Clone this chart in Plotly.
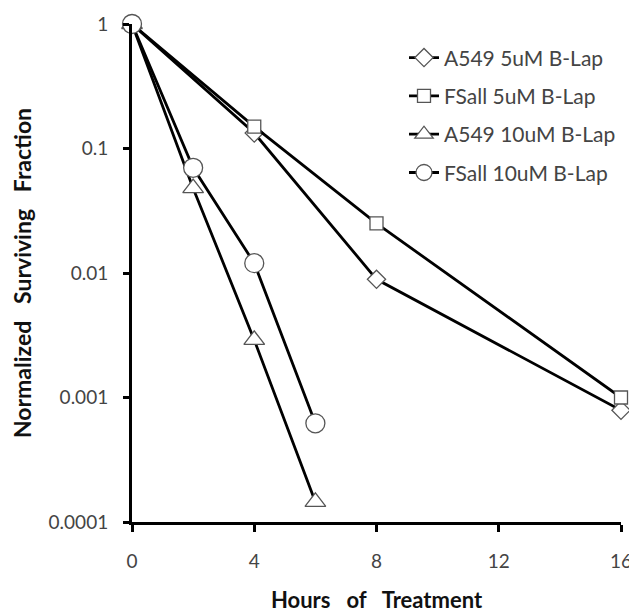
import plotly.graph_objects as go

names = ["A549 5uM B-Lap", "FSall 5uM B-Lap", "A549 10uM B-Lap", "FSall 10uM B-Lap"]
hours_5 = [0, 4, 8, 16]
hours_10 = [0, 2, 4, 6]
a549_5 = [1, 0.133, 0.0089, 0.00079]
fsall_5 = [1, 0.15, 0.025, 0.001]
a549_10 = [1, 0.048, 0.0029, 0.000145]
fsall_10 = [1, 0.07, 0.012, 0.00062]

x_ticks = [0, 4, 8, 12, 16]
y_ticks = [1, 0.1, 0.01, 0.001, 0.0001]
y_ticktext = ["1", "0.1", "0.01", "0.001", "0.0001"]

series = [
    (names[0], hours_5, a549_5, "diamond", 14),
    (names[1], hours_5, fsall_5, "square", 13),
    (names[2], hours_10, a549_10, "triangle-up", 18),
    (names[3], hours_10, fsall_10, "circle", 19),
]

fig = go.Figure()
for i, (nm, xs, ys, sym, sz) in enumerate(series):
    fig.add_trace(go.Scatter(
        x=xs, y=ys, name=nm, mode="lines+markers", legendgroup=str(i),
        line=dict(color="black", width=2.8),
        marker=dict(symbol=sym, size=sz, color="white",
                    line=dict(color="#555555", width=1.3)),
        cliponaxis=False,
    ))

font_fam = "Lato, 'Open Sans', sans-serif"
sx = "\u00a0\u00a0 "
sy = "\u00a0\u00a0 "
fig.update_layout(
    width=637, height=612,
    margin=dict(l=124, r=24, t=16, b=98),
    plot_bgcolor="white", paper_bgcolor="white",
    font=dict(family=font_fam, color="#333333"),
    showlegend=True,
    legend=dict(x=1.0, y=0.973, xanchor="right", yanchor="top",
                font=dict(size=21, color="#444444"), tracegroupgap=8,
                bgcolor="rgba(0,0,0,0)"),
    xaxis=dict(range=[0, 16], tickvals=x_ticks, showgrid=False, zeroline=False,
               automargin=False,
               showline=True, linecolor="black", linewidth=3,
               ticks="outside", ticklen=7, tickwidth=3, tickcolor="black",
               ticklabelstandoff=13,
               tickfont=dict(size=19, color="#444444"),
               title=dict(text="Hours" + sx + "of" + sx + "Treatment", standoff=22,
                          font=dict(size=22, color="#111111", family=font_fam))),
    yaxis=dict(type="log", range=[-4, 0], tickvals=y_ticks, ticktext=y_ticktext,
               showgrid=False, zeroline=False, automargin=False,
               showline=True, linecolor="black", linewidth=3,
               ticks="outside", ticklen=6, tickwidth=3, tickcolor="black",
               ticklabelstandoff=11,
               tickfont=dict(size=19, color="#444444"),
               title=dict(text="Normalized" + sy + "Surviving" + sy + "Fraction", standoff=13,
                          font=dict(size=23, color="#111111", family=font_fam))),
)
fig.update_xaxes(title_font_weight="bold")
fig.update_yaxes(title_font_weight="bold")

fig.write_html("out.html")
